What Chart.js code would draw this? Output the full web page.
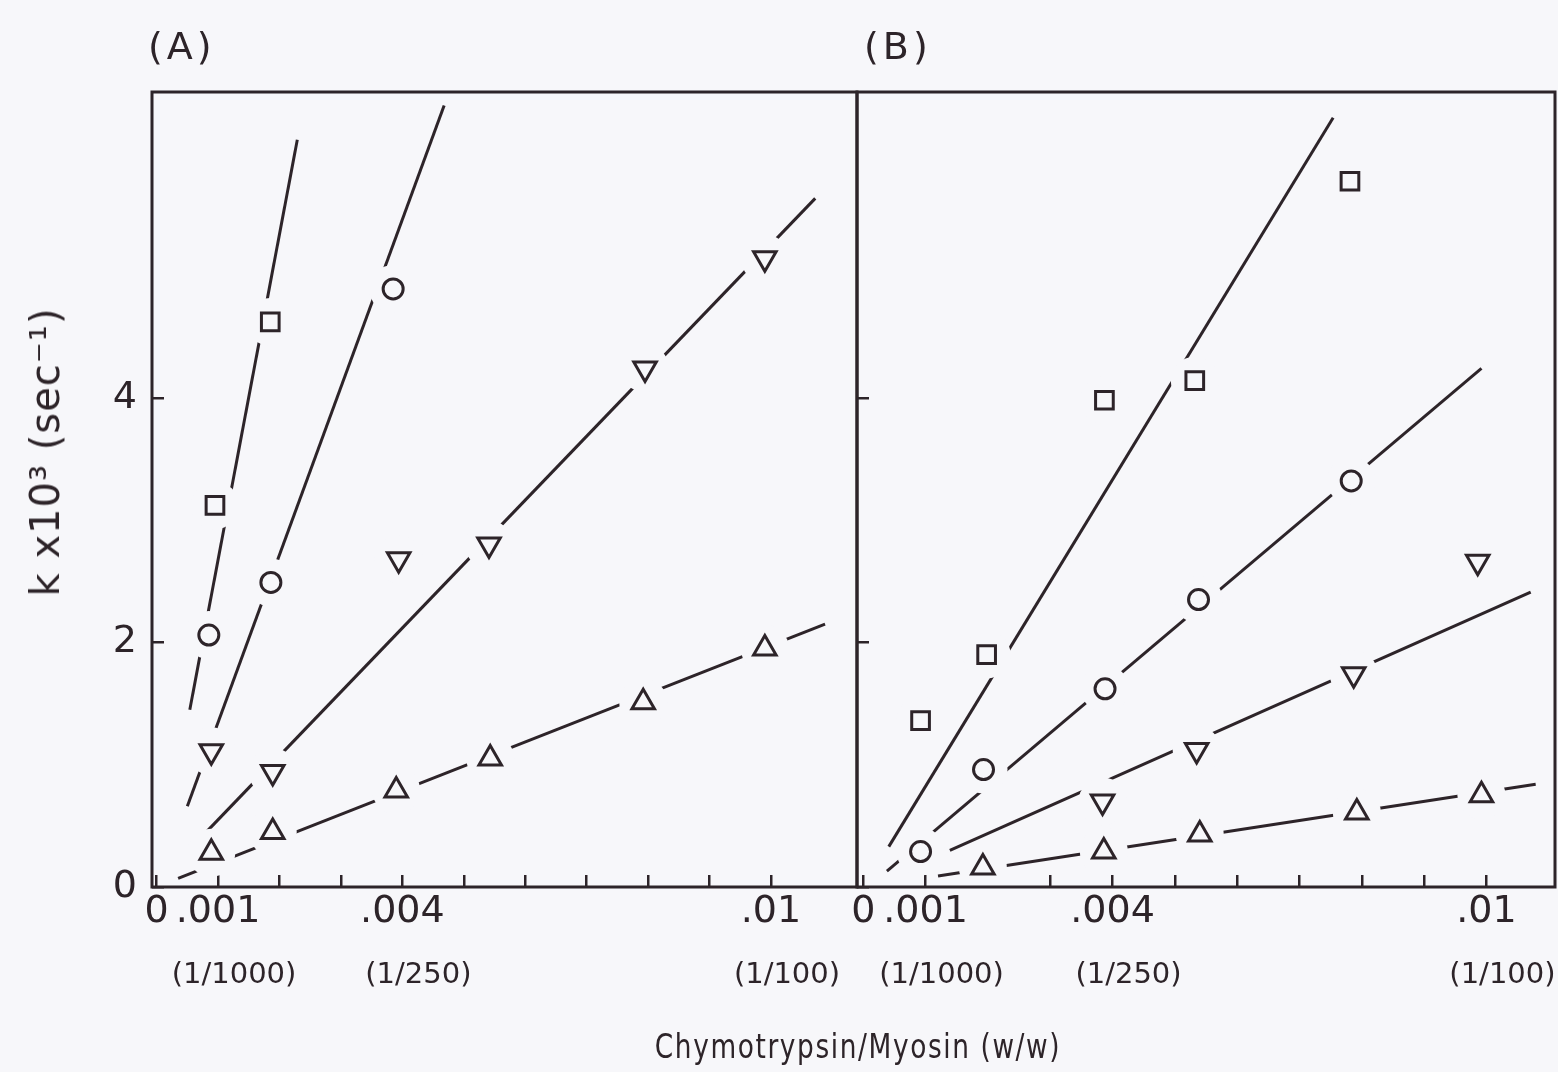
<!DOCTYPE html>
<html>
<head>
<meta charset="utf-8">
<script src="https://cdn.jsdelivr.net/npm/chart.js@4.4.1/dist/chart.umd.min.js"></script>
<style>
    html, body { margin: 0; padding: 0; }
    body {
        width: 1558px; height: 1072px; position: relative; overflow: hidden;
        background: #f7f7fa; color: #2d2429;
        font-family: "DejaVu Sans", sans-serif;
    }
    .panel { position: absolute; top: 0; height: 1072px; }
    .panel canvas { position: absolute; left: 0; top: 0; }
    #panelA { left: 0; width: 900px; }
    #panelB { left: 820px; width: 800px; }
    .label { position: absolute; white-space: nowrap; }
    .panel-tag { top: 24px; font-size: 38px; letter-spacing: 4px; }
    #ytitle {
        left: 45px; top: 452px; font-size: 40px; letter-spacing: 1px;
        transform: translate(-50%, -50%) rotate(-90deg);
    }
    #xtitle {
        left: 858px; top: 1046px; font-size: 33px; letter-spacing: 2px;
        transform: translate(-50%, -50%) scaleX(0.8);
    }
</style>
</head>
<body>
<div class="panel" id="panelA"><canvas id="linesA"></canvas><canvas id="marksA"></canvas></div>
<div class="panel" id="panelB"><canvas id="linesB"></canvas><canvas id="marksB"></canvas></div>
<div class="label panel-tag" style="left:148px;">(A)</div>
<div class="label panel-tag" style="left:864px;">(B)</div>
<div class="label" id="ytitle">k x10³ (sec⁻¹)</div>
<div class="label" id="xtitle">Chymotrypsin/Myosin (w/w)</div>

<script>
// --- Axis data ---
const xTickValues = [0, 0.001, 0.002, 0.003, 0.004, 0.005, 0.006, 0.007, 0.008, 0.009, 0.010];
const xTickLabels = ['0', '.001', '', '', '.004', '', '', '', '', '', '.01'];
const xRatioLabels = ['', '(1/1000)', '', '', '(1/250)', '', '', '', '', '', '(1/100)'];
const yTickValues = [0, 2, 4];
const yTickLabels = ['0', '2', '4'];

// --- Panel A (points) ---
const aSquareX = [0.00095, 0.00185];
const aSquareY = [3.12, 4.62];
const aCircleX = [0.00085, 0.00186, 0.00385];
const aCircleY = [2.06, 2.49, 4.89];
const aDownX = [0.00089, 0.00189, 0.00394, 0.00541, 0.00795, 0.00990];
const aDownY = [1.11, 0.94, 2.68, 2.80, 4.24, 5.14];
const aUpX = [0.00089, 0.00189, 0.00390, 0.00543, 0.00792, 0.00990];
const aUpY = [0.28, 0.45, 0.79, 1.05, 1.51, 1.95];

// Panel A fitted lines (two end points each)
const aSquareFitX = [0.00054, 0.00229];
const aSquareFitY = [1.45, 6.11];
const aCircleFitX = [0.00050, 0.00468];
const aCircleFitY = [0.66, 6.39];
const aDownFitX = [0.00058, 0.01072];
const aDownFitY = [0.33, 5.63];
const aUpFitX = [0.00035, 0.01088];
const aUpFitY = [0.07, 2.15];

// --- Panel B (points) ---
const bSquareX = [0.00092, 0.00198, 0.00387, 0.00532, 0.00781];
const bSquareY = [1.36, 1.90, 3.98, 4.14, 5.77];
const bCircleX = [0.00092, 0.00193, 0.00388, 0.00538, 0.00783];
const bCircleY = [0.29, 0.96, 1.62, 2.35, 3.32];
const bDownX = [0.00384, 0.00535, 0.00787, 0.00986];
const bDownY = [0.70, 1.12, 1.74, 2.66];
const bUpX = [0.00192, 0.00386, 0.00540, 0.00792, 0.00992];
const bUpY = [0.16, 0.29, 0.43, 0.61, 0.75];

// Panel B fitted lines
const bSquareFitX = [0.00041, 0.00754];
const bSquareFitY = [0.33, 6.29];
const bCircleFitX = [0.00038, 0.00992];
const bCircleFitY = [0.13, 4.24];
const bDownFitX = [0.00139, 0.01071];
const bDownFitY = [0.30, 2.41];
const bUpFitX = [0.00120, 0.01079];
const bUpFitY = [0.09, 0.84];

document.addEventListener("DOMContentLoaded", () => {

    const INK = '#2d2429';
    const PAPER = '#f7f7fa';
    const NONE = 'rgba(0,0,0,0)';

    function pts(xs, ys) {
        return xs.map((x, i) => ({ x: x, y: ys[i] }));
    }

    // open markers, drawn over paper-coloured discs that break the fitted lines
    function markerSet(xs, ys, style, radius, rotation) {
        return {
            data: pts(xs, ys),
            pointStyle: style,
            pointRadius: radius,
            pointRotation: rotation || 0,
            pointBorderColor: INK,
            pointBackgroundColor: PAPER,
            pointBorderWidth: 3,
            showLine: false,
            order: 0
        };
    }
    function haloSet(xs, ys) {
        return {
            data: pts(xs, ys),
            pointStyle: 'circle',
            pointRadius: 24,
            pointBorderWidth: 0,
            pointBackgroundColor: PAPER,
            showLine: false,
            order: 1
        };
    }
    function fitSet(xs, ys) {
        return {
            data: pts(xs, ys),
            showLine: true,
            borderColor: INK,
            borderWidth: 3,
            pointRadius: 0
        };
    }

    // --- Plugin: box round the plot area ---
    const framePlugin = {
        id: 'frame',
        afterDraw(chart) {
            const { ctx, chartArea: a } = chart;
            ctx.save();
            ctx.strokeStyle = INK;
            ctx.lineWidth = 3;
            ctx.strokeRect(a.left, a.top, a.right - a.left, a.bottom - a.top);
            ctx.restore();
        }
    };

    // same layout for both layers; only the top layer shows the axes (drawn after the data, z: 1)
    function buildOptions(xMin, xMax, yWidth, showYLabels, padRight, visible) {
        const ink = visible ? INK : NONE;
        return {
            responsive: false,
            animation: false,
            events: [],
            layout: { padding: { top: 92, bottom: 63, left: 0, right: padRight } },
            plugins: { legend: { display: false }, tooltip: { enabled: false } },
            scales: {
                x: {
                    type: 'linear', position: 'bottom', weight: 0, z: 1,
                    min: xMin, max: xMax,
                    afterBuildTicks: s => { s.ticks = xTickValues.map(v => ({ value: v })); },
                    afterFit: s => { s.height = 62; },
                    border: { display: false },
                    grid: { drawOnChartArea: false, drawTicks: true, tickLength: -12, color: ink, lineWidth: 2.5 },
                    ticks: {
                        autoSkip: false, maxRotation: 0, padding: 14, color: ink,
                        font: { family: 'DejaVu Sans', size: 38 },
                        callback: (v, i) => xTickLabels[i]
                    }
                },
                x2: {
                    type: 'linear', position: 'bottom', weight: 1, z: 1,
                    min: xMin, max: xMax,
                    afterBuildTicks: s => { s.ticks = xTickValues.map(v => ({ value: v })); },
                    afterFit: s => { s.height = 60; },
                    border: { display: false },
                    grid: { display: false, drawTicks: false },
                    ticks: {
                        autoSkip: false, maxRotation: 0, padding: 9, labelOffset: 16, color: ink,
                        font: { family: 'DejaVu Sans', size: 29 },
                        callback: (v, i) => xRatioLabels[i]
                    }
                },
                y: {
                    type: 'linear', position: 'left', z: 1,
                    min: 0, max: 6.5,
                    afterBuildTicks: s => { s.ticks = yTickValues.map(v => ({ value: v })); },
                    afterFit: s => { s.width = yWidth; },
                    border: { display: false },
                    grid: { drawOnChartArea: false, drawTicks: true, tickLength: -12, color: ink, lineWidth: 2.5 },
                    ticks: {
                        display: showYLabels, padding: 27, color: ink,
                        font: { family: 'DejaVu Sans', size: 38 },
                        callback: (v, i) => yTickLabels[i]
                    }
                }
            }
        };
    }

    function drawPanel(lineId, markId, width, markers, fits, xMin, xMax, yWidth, showYLabels, padRight) {
        // bottom layer: fitted lines only
        const lc = document.getElementById(lineId);
        lc.width = width; lc.height = 1072;
        new Chart(lc, {
            type: 'scatter',
            data: { datasets: fits.map(f => fitSet(f[0], f[1])) },
            options: buildOptions(xMin, xMax, yWidth, showYLabels, padRight, false)
        });
        // top layer: halos, markers, axes and frame
        const mc = document.getElementById(markId);
        mc.width = width; mc.height = 1072;
        const sets = markers.map(m => markerSet(m[0], m[1], m[2], m[3], m[4]))
            .concat(markers.map(m => haloSet(m[0], m[1])));
        new Chart(mc, {
            type: 'scatter',
            data: { datasets: sets },
            options: buildOptions(xMin, xMax, yWidth, showYLabels, padRight, true),
            plugins: [framePlugin]
        });
    }

    // --- Panel A ---
    drawPanel('linesA', 'marksA', 900,
        [[aSquareX, aSquareY, 'rect', 12.5], [aCircleX, aCircleY, 'circle', 10],
         [aDownX, aDownY, 'triangle', 13, 180], [aUpX, aUpY, 'triangle', 13]],
        [[aSquareFitX, aSquareFitY], [aCircleFitX, aCircleFitY], [aDownFitX, aDownFitY], [aUpFitX, aUpFitY]],
        -0.000075, 0.0114, 152, true, 43);

    // --- Panel B ---
    drawPanel('linesB', 'marksB', 800,
        [[bSquareX, bSquareY, 'rect', 12.5], [bCircleX, bCircleY, 'circle', 10],
         [bDownX, bDownY, 'triangle', 13, 180], [bUpX, bUpY, 'triangle', 13]],
        [[bSquareFitX, bSquareFitY], [bCircleFitX, bCircleFitY], [bDownFitX, bDownFitY], [bUpFitX, bUpFitY]],
        -0.0001, 0.0111, 37, false, 65);
});
</script>
</body>
</html>
